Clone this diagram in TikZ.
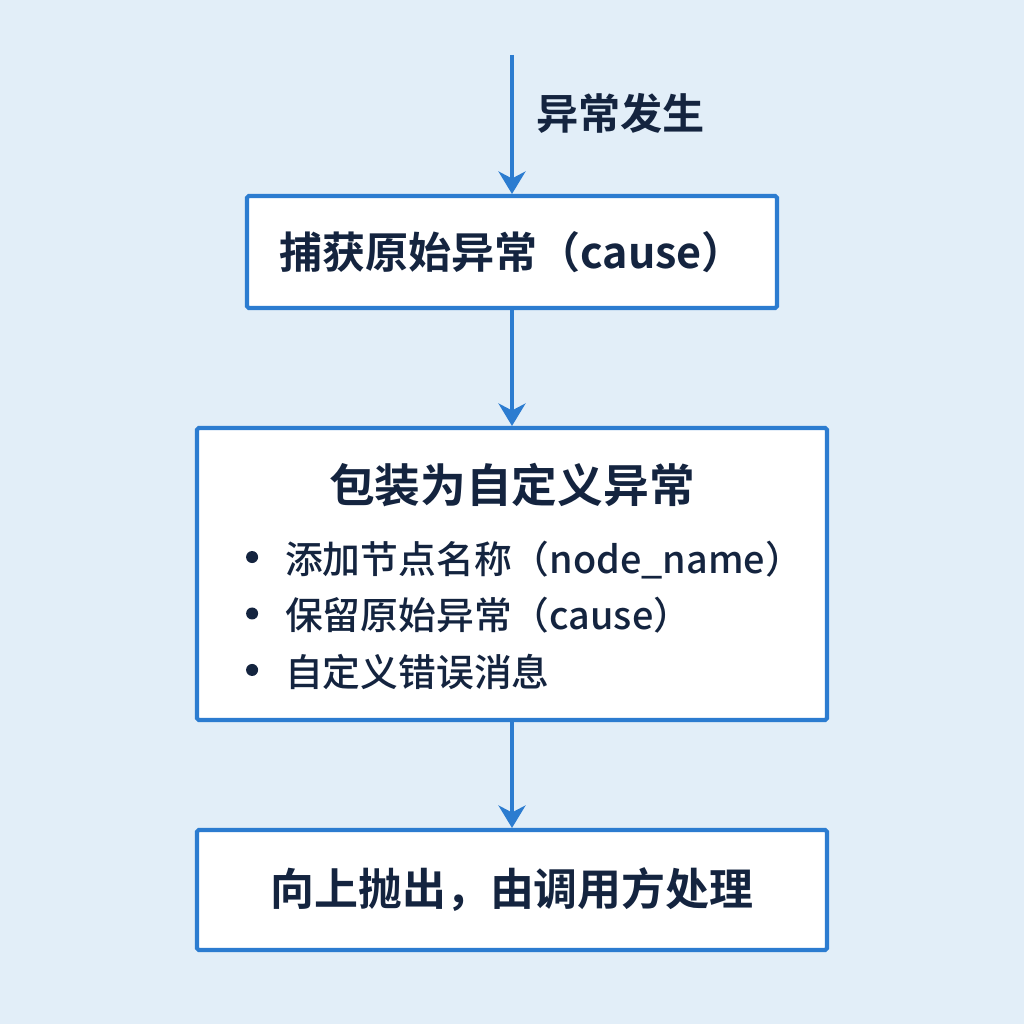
\documentclass[tikz,border=0pt]{standalone}
\usepackage{fontspec}
\newfontfamily\cjk{Noto Sans CJK SC}[UprightFont=* Medium, BoldFont=* Bold]
\usetikzlibrary{arrows.meta}

\definecolor{bgblue}{HTML}{E2EEF8}
\definecolor{lineblue}{HTML}{2C7CD0}
\definecolor{inkblue}{HTML}{14243F}

\newcommand{\dotitem}{\raisebox{0.5ex}{\tikz\fill[inkblue] (0,0) circle (1.2mm);}\hspace{5.4mm}}

\tikzset{
	stepbox/.style={draw=lineblue, line width=2.3pt, fill=white, rounded corners=1pt, text=inkblue, align=center, inner sep=0pt},
	flow/.style={draw=lineblue, line width=2pt, -{Stealth[length=4.5mm, width=5.4mm, inset=1.4mm]}}
}

\begin{document}
\begin{tikzpicture}
		\fill [bgblue] (0,0) rectangle (20.48,20.48);
		\useasboundingbox (0,0) rectangle (20.48,20.48);
		
		\coordinate (start) at (10.24,19.38);
		\node [anchor=west, text=inkblue] (occur) at (10.6,18.22) {\cjk\bfseries\fontsize{24}{28}\selectfont 异常发生};
		
		\node [stepbox, minimum width=10.6cm, minimum height=2.24cm] (catch) at (10.24,15.44)
			{\cjk\bfseries\fontsize{24.5}{28}\selectfont 捕获原始异常（cause）};
		
		\node [stepbox, minimum width=12.6cm, minimum height=5.84cm] (wrap) at (10.24,9.0)
			{\cjk\fontsize{21.5}{27}\selectfont
			\begin{tabular}{@{}l@{}}
				\multicolumn{1}{@{}c@{}}{\raisebox{0pt}[\dimexpr\height+3.2mm\relax]{\bfseries\fontsize{26}{30}\selectfont 包装为自定义异常}} \\[4.6mm]
				\dotitem 添加节点名称（node\_name）\hspace{-5mm} \\[1.8mm]
				\dotitem 保留原始异常（cause） \\[1.8mm]
				\dotitem 自定义错误消息
			\end{tabular}};
		
		\node [stepbox, minimum width=12.6cm, minimum height=2.4cm] (throw) at (10.24,2.68)
			{\cjk\bfseries\fontsize{25}{30}\selectfont 向上抛出，由调用方处理};
		
		\draw [flow] (start) -- (catch);
		\draw [flow] (catch) -- (wrap);
		\draw [flow] (wrap) -- (throw);
	\end{tikzpicture}
\end{document}
